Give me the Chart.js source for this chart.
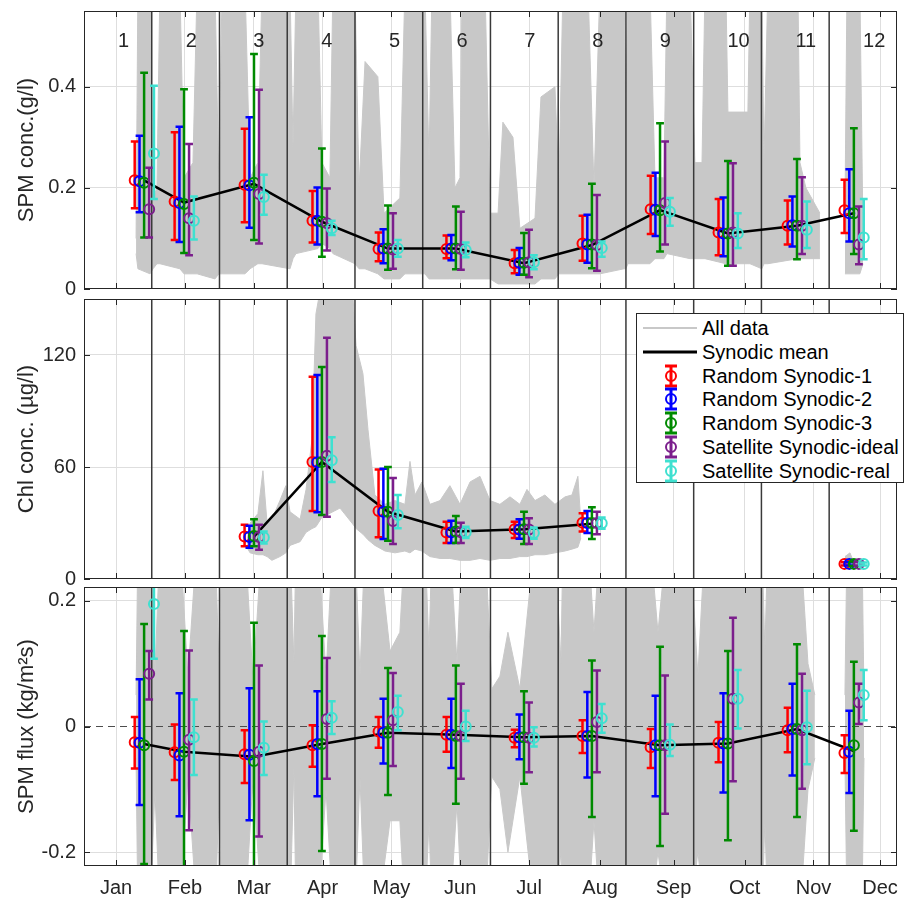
<!DOCTYPE html>
<html>
<head>
<meta charset="utf-8">
<script src="https://cdn.jsdelivr.net/npm/chart.js@4.4.0/dist/chart.umd.min.js"></script>
<style>
  body { margin: 0; background: #fff; }
  #wrap { position: relative; width: 909px; height: 900px; font-family: 'Liberation Sans', Arial, sans-serif; }
  #wrap canvas { position: absolute; left: 0; }
  #legend { position: absolute; left: 636px; top: 313px; width: 266px; height: 168px; border: 1px solid #262626; background: #fff; }
  #legend .row { position: absolute; left: 0; height: 24px; line-height: 24px; font-size: 20px; color: #000; white-space: nowrap; }
  #legend .row svg { position: absolute; left: 0; top: 0; }
  #legend .row span { position: absolute; left: 65px; top: 0; }
</style>
</head>
<body>
<div id="wrap">
  <canvas id="spm" width="909" height="300" style="top:0"></canvas>
  <canvas id="chl" width="909" height="300" style="top:290px"></canvas>
  <canvas id="flux" width="909" height="320" style="top:580px"></canvas>
  <div id="legend"></div>
</div>
<script>
// x axis is in days from 1 Jan
const monthLabels = ['Jan', 'Feb', 'Mar', 'Apr', 'May', 'Jun', 'Jul', 'Aug', 'Sep', 'Oct', 'Nov', 'Dec'];
const monthTicks = [14, 44, 74, 104, 134, 164, 194, 225, 257, 288, 318, 347];
const xMax = 354.4;
const synodicEdges = [29.53, 59.06, 88.59, 118.12, 147.65, 177.18, 206.71, 236.24, 265.77, 295.3, 324.83];
const synodicLabels = ['1', '2', '3', '4', '5', '6', '7', '8', '9', '10', '11', '12'];
const synodicLabelPos = [14.8, 44.3, 73.8, 103.4, 132.9, 162.4, 191.9, 221.5, 251.0, 280.5, 310.1, 339.6];

// centre of each synodic group of error bars
const groupDay = [26.2, 43.6, 74.1, 103.7, 132.5, 162.1, 191.8, 221.4, 251.1, 280.7, 310.8, 335.6];

const seriesNames = ['Random Synodic-1', 'Random Synodic-2', 'Random Synodic-3', 'Satellite Synodic-ideal', 'Satellite Synodic-real'];
const seriesColors = ['#ff0000', '#0000ff', '#008a00', '#7b1e8c', '#3fe0d0'];
const seriesOffsets = [-4.1, -2.0, 0, 2.2, 4.3];

// ---- SPM concentration (g/l): [mean, low, high] per synodic month
const spmMean = [0.215, 0.171, 0.208, 0.133, 0.080, 0.080, 0.051, 0.087, 0.156, 0.110, 0.125, 0.150];
const spmRandom1 = [[0.215, 0.160, 0.292], [0.173, 0.097, 0.310], [0.206, 0.132, 0.317], [0.135, 0.092, 0.194], [0.079, 0.055, 0.112], [0.079, 0.061, 0.106], [0.051, 0.031, 0.077], [0.090, 0.056, 0.145], [0.158, 0.109, 0.224], [0.112, 0.067, 0.178], [0.125, 0.088, 0.175], [0.156, 0.111, 0.216]];
const spmRandom2 = [[0.213, 0.152, 0.303], [0.170, 0.093, 0.321], [0.205, 0.121, 0.340], [0.135, 0.088, 0.201], [0.080, 0.051, 0.118], [0.080, 0.057, 0.107], [0.052, 0.028, 0.081], [0.088, 0.052, 0.147], [0.157, 0.105, 0.230], [0.110, 0.065, 0.181], [0.126, 0.084, 0.183], [0.150, 0.094, 0.237]];
const spmRandom3 = [[0.210, 0.102, 0.428], [0.168, 0.071, 0.395], [0.210, 0.097, 0.465], [0.133, 0.064, 0.278], [0.080, 0.038, 0.165], [0.080, 0.039, 0.163], [0.052, 0.028, 0.111], [0.088, 0.041, 0.208], [0.156, 0.074, 0.328], [0.110, 0.046, 0.253], [0.125, 0.059, 0.257], [0.150, 0.069, 0.318]];
const spmSatIdeal = [[0.158, 0.102, 0.240], [0.140, 0.067, 0.287], [0.188, 0.090, 0.394], [0.130, 0.076, 0.199], [0.078, 0.040, 0.150], [0.079, 0.038, 0.153], [0.053, 0.023, 0.117], [0.087, 0.036, 0.186], [0.170, 0.088, 0.292], [0.112, 0.046, 0.249], [0.125, 0.069, 0.221], [0.088, 0.049, 0.163]];
const spmSatReal = [[0.268, 0.178, 0.402], [0.135, 0.098, 0.183], [0.182, 0.147, 0.226], [0.120, 0.107, 0.135], [0.080, 0.064, 0.097], [0.077, 0.063, 0.092], [0.053, 0.039, 0.067], [0.081, 0.064, 0.094], [0.153, 0.125, 0.180], [0.110, 0.081, 0.150], [0.117, 0.081, 0.173], [0.102, 0.059, 0.178]];
// all data envelope: [day, low, high]
const spmAll = [[22.7, 0.07, 0.10], [23.5, 0.04, 0.60], [28.8, 0.03, 0.60], [30.1, 0.04, 0.18], [31.8, 0.05, 0.20], [33.1, 0.05, 0.60], [41.8, 0.04, 0.60], [43.6, 0.03, 0.22], [47.5, 0.03, 0.25], [49.3, 0.03, 0.60], [57.1, 0.02, 0.60], [58.8, 0.03, 0.20], [60.2, 0.03, 0.60], [70.2, 0.03, 0.60], [72.4, 0.04, 0.22], [75.8, 0.05, 0.25], [77.6, 0.05, 0.60], [89.8, 0.04, 0.60], [91.1, 0.06, 0.28], [92.4, 0.07, 0.60], [102.0, 0.08, 0.60], [103.7, 0.09, 0.25], [107.2, 0.08, 0.22], [108.5, 0.07, 0.60], [118.1, 0.05, 0.60], [119.9, 0.04, 0.20], [122.5, 0.04, 0.45], [128.1, 0.03, 0.42], [130.8, 0.02, 0.15], [137.7, 0.02, 0.18], [139.9, 0.03, 0.60], [148.6, 0.03, 0.60], [150.4, 0.02, 0.25], [151.7, 0.02, 0.60], [159.5, 0.02, 0.60], [161.7, 0.02, 0.20], [163.9, 0.02, 0.22], [164.8, 0.02, 0.60], [174.8, 0.02, 0.60], [177.0, 0.02, 0.15], [180.5, 0.01, 0.15], [182.6, 0.01, 0.33], [187.0, 0.01, 0.30], [190.0, 0.01, 0.12], [196.6, 0.01, 0.14], [199.2, 0.02, 0.38], [205.3, 0.02, 0.40], [207.0, 0.03, 0.20], [208.8, 0.03, 0.60], [219.7, 0.03, 0.60], [222.3, 0.03, 0.20], [224.9, 0.03, 0.60], [235.4, 0.04, 0.60], [236.2, 0.04, 0.35], [237.1, 0.05, 0.60], [246.7, 0.05, 0.60], [248.9, 0.06, 0.22], [252.8, 0.06, 0.22], [254.1, 0.07, 0.60], [264.2, 0.06, 0.60], [266.3, 0.06, 0.25], [269.4, 0.06, 0.25], [270.7, 0.06, 0.60], [279.8, 0.05, 0.60], [280.7, 0.05, 0.35], [289.4, 0.05, 0.35], [290.3, 0.05, 0.60], [295.5, 0.04, 0.60], [296.4, 0.05, 0.25], [298.1, 0.05, 0.60], [311.2, 0.06, 0.60], [312.1, 0.06, 0.25], [314.7, 0.06, 0.20], [320.8, 0.06, 0.15], [323.4, null, null], [331.7, 0.03, 0.15], [332.6, 0.03, 0.60], [338.2, 0.03, 0.60], [339.6, 0.05, 0.10]];

// ---- Chl concentration (ug/l)
const chlMean = [null, null, 22.7, 62.7, 36.0, 25.5, 26.7, 29.6, null, null, null, null];
const chlRandom1 = [null, null, [22.8, 17.5, 29.0], [62.7, 36.4, 108.4], [36.4, 22.4, 58.6], [24.9, 19.3, 30.7], [26.7, 21.9, 30.7], [30.2, 25.4, 35.2], null, null, null, [8.1, 7.2, 9.0]];
const chlRandom2 = [null, null, [22.5, 16.8, 28.5], [62.5, 35.7, 109.3], [36.0, 21.4, 59.1], [25.0, 19.3, 31.2], [26.5, 21.5, 32.0], [30.0, 24.6, 36.4], null, null, null, [8.1, 7.2, 9.0]];
const chlRandom3 = [null, null, [23.0, 17.5, 32.0], [62.7, 34.3, 113.6], [36.0, 20.5, 60.0], [25.5, 19.3, 33.8], [26.7, 18.7, 36.0], [30.0, 21.4, 38.4], null, null, null, [8.1, 7.0, 9.4]];
const chlSatIdeal = [null, null, [22.5, 15.7, 29.0], [66.0, 33.4, 129.2], [31.1, 18.7, 54.1], [25.0, 19.3, 30.2], [26.5, 18.7, 32.5], [30.0, 24.0, 36.0], null, null, null, [8.1, 7.2, 9.0]];
const chlSatReal = [null, null, [22.2, 19.0, 25.5], [63.6, 52.0, 76.0], [34.3, 27.2, 45.0], [25.1, 22.0, 28.0], [24.6, 21.6, 27.6], [29.9, 26.9, 32.9], null, null, null, [8.0, 7.2, 8.8]];
const chlAll = [[71.0, 17, 20], [72.4, 14, 30], [75.8, 13, 35], [78.0, 13, 58], [79.8, 12, 30], [81.9, 10, 32], [85.4, 12, 42], [88.0, 14, 50], [89.8, 18, 36], [94.2, 20, 32], [96.8, 25, 48], [99.4, 27, 75], [101.1, 28, 142], [103.7, 33, 160], [111.6, 38, 160], [116.8, 30, 160], [118.6, 27, 125], [121.6, 24, 110], [123.8, 21, 80], [126.8, 18, 45], [131.2, 15, 40], [135.6, 14, 42], [139.9, 15, 40], [142.1, 14, 63], [144.3, 16, 45], [147.3, 15, 52], [150.8, 12, 40], [155.2, 11, 42], [159.5, 11, 50], [163.9, 10, 40], [168.3, 10, 52], [172.6, 11, 55], [177.0, 10, 42], [181.3, 11, 40], [185.7, 11, 44], [190.0, 12, 40], [193.1, 12, 48], [196.6, 13, 42], [200.9, 13, 45], [205.3, 14, 40], [209.7, 15, 44], [212.7, 16, 45], [215.3, 17, 55], [216.6, 22, 30], [270.0, null, null], [331.7, 7, 12], [333.9, 7, 14], [335.2, 7, 10]];

// ---- SPM flux (kg/m2s)
const fluxMean = [-0.028, -0.040, -0.048, -0.028, -0.010, -0.013, -0.017, -0.015, -0.030, -0.027, -0.004, -0.039];
const fluxRandom1 = [[-0.025, -0.067, 0.015], [-0.041, -0.085, 0.003], [-0.044, -0.090, -0.006], [-0.030, -0.064, 0.002], [-0.008, -0.034, 0.015], [-0.013, -0.040, 0.015], [-0.018, -0.033, -0.005], [-0.015, -0.042, 0.010], [-0.033, -0.066, -0.004], [-0.026, -0.057, 0.007], [-0.006, -0.041, 0.030], [-0.042, -0.074, -0.014]];
const fluxRandom2 = [[-0.026, -0.125, 0.075], [-0.046, -0.143, 0.053], [-0.045, -0.149, 0.061], [-0.028, -0.111, 0.056], [-0.010, -0.059, 0.044], [-0.013, -0.066, 0.044], [-0.017, -0.052, 0.019], [-0.015, -0.081, 0.055], [-0.030, -0.111, 0.049], [-0.027, -0.105, 0.053], [-0.004, -0.078, 0.068], [-0.040, -0.106, 0.025]];
const fluxRandom3 = [[-0.030, -0.219, 0.163], [-0.040, -0.300, 0.152], [-0.055, -0.300, 0.165], [-0.028, -0.198, 0.144], [-0.010, -0.109, 0.093], [-0.015, -0.123, 0.097], [-0.017, -0.091, 0.056], [-0.015, -0.144, 0.105], [-0.030, -0.190, 0.127], [-0.027, -0.181, 0.120], [-0.004, -0.144, 0.131], [-0.030, -0.166, 0.103]];
const fluxSatIdeal = [[0.084, 0.043, 0.120], [-0.021, -0.165, 0.121], [-0.040, -0.175, 0.097], [0.012, -0.083, 0.109], [0.010, -0.063, 0.085], [-0.015, -0.083, 0.068], [-0.018, -0.073, 0.038], [0.007, -0.073, 0.089], [-0.030, -0.139, 0.081], [0.044, -0.087, 0.173], [-0.006, -0.099, 0.084], [0.038, 0.004, 0.068]];
const fluxSatReal = [[0.195, 0.108, 0.300], [-0.017, -0.077, 0.043], [-0.034, -0.077, 0.008], [0.014, -0.012, 0.040], [0.023, -0.006, 0.049], [0.000, -0.023, 0.025], [-0.018, -0.032, -0.001], [0.013, -0.010, 0.036], [-0.029, -0.047, 0.003], [0.044, -0.003, 0.090], [-0.001, -0.060, 0.057], [0.050, 0.010, 0.090]];
const fluxAll = [[22.7, -0.05, 0.05], [23.5, -0.30, 0.30], [28.8, -0.30, 0.30], [30.9, -0.10, 0.08], [33.1, -0.30, 0.30], [41.8, -0.30, 0.30], [45.3, -0.08, 0.08], [49.3, -0.30, 0.30], [57.1, -0.30, 0.30], [58.8, -0.12, 0.10], [60.2, -0.30, 0.30], [70.2, -0.30, 0.30], [73.7, -0.08, 0.07], [77.6, -0.30, 0.30], [89.8, -0.30, 0.30], [91.5, -0.06, 0.10], [92.4, -0.30, 0.30], [102.0, -0.30, 0.30], [105.5, -0.10, 0.08], [108.5, -0.30, 0.30], [118.1, -0.30, 0.30], [120.3, -0.08, 0.08], [122.5, -0.30, 0.30], [128.1, -0.30, 0.30], [133.4, -0.15, 0.12], [137.7, -0.15, 0.15], [139.9, -0.30, 0.30], [148.6, -0.30, 0.30], [150.4, -0.15, 0.12], [151.7, -0.30, 0.30], [159.5, -0.30, 0.30], [162.6, -0.12, 0.10], [164.8, -0.30, 0.30], [174.8, -0.30, 0.30], [177.8, -0.08, 0.06], [181.3, -0.10, 0.08], [184.8, -0.20, 0.15], [190.0, -0.08, 0.06], [196.6, -0.30, 0.30], [205.3, -0.30, 0.30], [207.9, -0.20, 0.10], [208.8, -0.30, 0.30], [219.7, -0.30, 0.30], [222.3, -0.15, 0.15], [224.9, -0.30, 0.30], [246.7, -0.30, 0.30], [250.2, -0.20, 0.15], [254.1, -0.30, 0.30], [264.2, -0.30, 0.30], [267.6, -0.20, 0.08], [270.7, -0.30, 0.30], [295.5, -0.30, 0.30], [296.8, -0.15, 0.12], [298.1, -0.30, 0.30], [312.1, -0.30, 0.30], [315.6, -0.10, 0.10], [318.6, -0.05, 0.05], [323.4, null, null], [331.7, -0.05, 0.05], [332.6, -0.30, 0.30], [339.1, -0.30, 0.30], [340.0, -0.05, 0.05]];

const textColor = '#262626';
const gridColor = '#dedede';
const grayColor = '#c8c8c8';
const capHalf = 1.7;

Chart.defaults.font.family = "'Liberation Sans', Arial, sans-serif";
Chart.defaults.color = textColor;

function errorBarData(rows, offset) {
  const pts = [];
  rows.forEach((r, i) => {
    if (!r) return;
    const x = groupDay[i] + offset;
    const lo = r[1], hi = r[2];
    pts.push({x: x, y: lo}, {x: x, y: hi}, {x: x, y: null},
      {x: x - capHalf, y: hi}, {x: x + capHalf, y: hi}, {x: x, y: null},
      {x: x - capHalf, y: lo}, {x: x + capHalf, y: lo}, {x: x, y: null});
  });
  return pts;
}

function meanPoints(rows, offset) {
  const pts = [];
  rows.forEach((r, i) => { if (r) pts.push({x: groupDay[i] + offset, y: r[0]}); });
  return pts;
}

const framePlugin = {
  id: 'frame',
  afterDraw(chart, args, opts) {
    const {ctx, chartArea: a, scales: {x, y}} = chart;
    ctx.save();
    ctx.strokeStyle = textColor;
    ctx.lineWidth = 1;
    ctx.beginPath();
    monthTicks.forEach(v => {
      const px = Math.round(x.getPixelForValue(v)) + 0.5;
      ctx.moveTo(px, a.top); ctx.lineTo(px, a.top + 6);
      ctx.moveTo(px, a.bottom); ctx.lineTo(px, a.bottom - 6);
    });
    y.ticks.forEach(t => {
      const py = Math.round(y.getPixelForValue(t.value)) + 0.5;
      ctx.moveTo(a.left, py); ctx.lineTo(a.left + 6, py);
      ctx.moveTo(a.right, py); ctx.lineTo(a.right - 6, py);
    });
    ctx.stroke();
    ctx.strokeRect(a.left + 0.5, a.top + 0.5, a.width - 1, a.height - 1);
    if (opts.labels) {
      ctx.fillStyle = textColor;
      ctx.font = "20px 'Liberation Sans', Arial, sans-serif";
      ctx.textAlign = 'left';
      ctx.textBaseline = 'middle';
      synodicLabels.forEach((s, i) => {
        ctx.fillText(s, x.getPixelForValue(synodicLabelPos[i]), y.getPixelForValue(opts.labelY));
      });
    }
    ctx.restore();
  }
};

function makePanel(id, cfg) {
  const datasets = [];
  datasets.push({
    data: cfg.all.map(r => ({x: r[0], y: r[2]})),
    borderColor: grayColor, backgroundColor: grayColor, borderWidth: 1,
    pointRadius: 0, fill: 1, spanGaps: false, order: 100
  });
  datasets.push({
    data: cfg.all.map(r => ({x: r[0], y: r[1]})),
    borderColor: grayColor, borderWidth: 1, pointRadius: 0, fill: false, spanGaps: false, order: 101
  });
  const edgePts = [];
  synodicEdges.forEach(e => { edgePts.push({x: e, y: cfg.min}, {x: e, y: cfg.max}, {x: e, y: null}); });
  datasets.push({ data: edgePts, borderColor: '#3a3a3a', borderWidth: 1.5, pointRadius: 0, fill: false, spanGaps: false, order: 90 });
  if (cfg.zeroLine) {
    datasets.push({ data: [{x: 0, y: 0}, {x: xMax, y: 0}], borderColor: '#4d4d4d', borderWidth: 1, borderDash: [7, 5], pointRadius: 0, fill: false, order: 88 });
  }
  datasets.push({
    data: cfg.mean.map((m, i) => ({x: groupDay[i], y: m})),
    borderColor: '#000', borderWidth: 2.5, pointRadius: 0, fill: false, spanGaps: false, order: 80
  });
  cfg.series.forEach((rows, s) => {
    datasets.push({
      data: errorBarData(rows, seriesOffsets[s]),
      borderColor: seriesColors[s], borderWidth: 2.5, pointRadius: 0, fill: false, spanGaps: false,
      borderCapStyle: 'butt', order: 70 - s * 10
    });
    datasets.push({
      data: meanPoints(rows, seriesOffsets[s]),
      showLine: false, pointStyle: 'circle', pointRadius: 5, pointBorderWidth: 2,
      pointBorderColor: seriesColors[s], pointBackgroundColor: 'rgba(0,0,0,0)', order: 69 - s * 10
    });
  });

  return new Chart(document.getElementById(id), {
    type: 'line',
    data: { datasets: datasets },
    plugins: [framePlugin],
    options: {
      responsive: false,
      animation: false,
      events: [],
      layout: { padding: { left: 0, right: 12, top: cfg.padTop, bottom: cfg.padBottom } },
      plugins: {
        legend: { display: false },
        tooltip: { enabled: false },
        frame: { labels: cfg.labels, labelY: cfg.labelY }
      },
      elements: { line: { tension: 0 } },
      scales: {
        x: {
          type: 'linear', min: 0, max: xMax,
          afterBuildTicks: s => { s.ticks = monthTicks.map(v => ({value: v})); },
          afterFit: s => { s.height = cfg.xHeight; s.paddingLeft = 0; s.paddingRight = 0; },
          ticks: {
            display: cfg.xLabels, autoSkip: false, maxRotation: 0, padding: 10,
            color: textColor, font: { size: 20 },
            callback: (v, i) => monthLabels[i]
          },
          grid: { color: gridColor, drawTicks: false },
          border: { display: false }
        },
        y: {
          type: 'linear', min: cfg.min, max: cfg.max,
          afterFit: s => { s.width = 84; s.paddingTop = 0; s.paddingBottom = 0; },
          ticks: {
            stepSize: cfg.step, includeBounds: false, padding: 8,
            color: textColor, font: { size: 20 },
            callback: v => String(+v.toFixed(2))
          },
          grid: {
            color: c => (c.tick && Math.abs(c.tick.value) < 1e-9) ? 'rgba(0,0,0,0)' : gridColor,
            drawTicks: false
          },
          border: { display: false },
          title: {
            display: true, text: cfg.title, color: textColor,
            font: { size: 22 }, padding: { top: 14, bottom: 0 }
          }
        }
      }
    }
  });
}

makePanel('spm', {
  all: spmAll, mean: spmMean,
  series: [spmRandom1, spmRandom2, spmRandom3, spmSatIdeal, spmSatReal],
  min: 0, max: 0.55, step: 0.2, title: 'SPM conc.(g/l)',
  padTop: 11, padBottom: 11, xHeight: 0, xLabels: false,
  labels: true, labelY: 0.49
});
makePanel('chl', {
  all: chlAll, mean: chlMean,
  series: [chlRandom1, chlRandom2, chlRandom3, chlSatIdeal, chlSatReal],
  min: 0, max: 150, step: 60, title: 'Chl conc. (µg/l)',
  padTop: 9, padBottom: 11, xHeight: 0, xLabels: false, labels: false
});
makePanel('flux', {
  all: fluxAll, mean: fluxMean,
  series: [fluxRandom1, fluxRandom2, fluxRandom3, fluxSatIdeal, fluxSatReal],
  min: -0.222, max: 0.222, step: 0.2, title: 'SPM flux (kg/m²s)',
  padTop: 7, padBottom: 0, xHeight: 34, xLabels: true, labels: false, zeroLine: true
});

// legend (HTML, built from the same names and colours)
const legendBox = document.getElementById('legend');
const rowTops = [2, 26, 50, 73, 97, 121, 145];
const legendItems = [
  { name: 'All data', line: grayColor, width: 2 },
  { name: 'Synodic mean', line: '#000', width: 3 }
].concat(seriesNames.map((n, i) => ({ name: n, bar: seriesColors[i] })));
legendItems.forEach((it, i) => {
  const row = document.createElement('div');
  row.className = 'row';
  row.style.top = rowTops[i] + 'px';
  let icon;
  if (it.line) {
    icon = '<svg width="64" height="24"><line x1="6" y1="12" x2="60" y2="12" stroke="' + it.line + '" stroke-width="' + it.width + '"/></svg>';
  } else {
    const c = it.bar;
    icon = '<svg width="64" height="24" fill="none" stroke="' + c + '" stroke-width="3">' +
      '<line x1="34" y1="2" x2="34" y2="22"/><line x1="28" y1="2" x2="40" y2="2"/>' +
      '<line x1="28" y1="22" x2="40" y2="22"/><circle cx="34" cy="12" r="5" stroke-width="2"/></svg>';
  }
  const label = document.createElement('span');
  label.textContent = it.name;
  row.innerHTML = icon;
  row.appendChild(label);
  legendBox.appendChild(row);
});
</script>
</body>
</html>
